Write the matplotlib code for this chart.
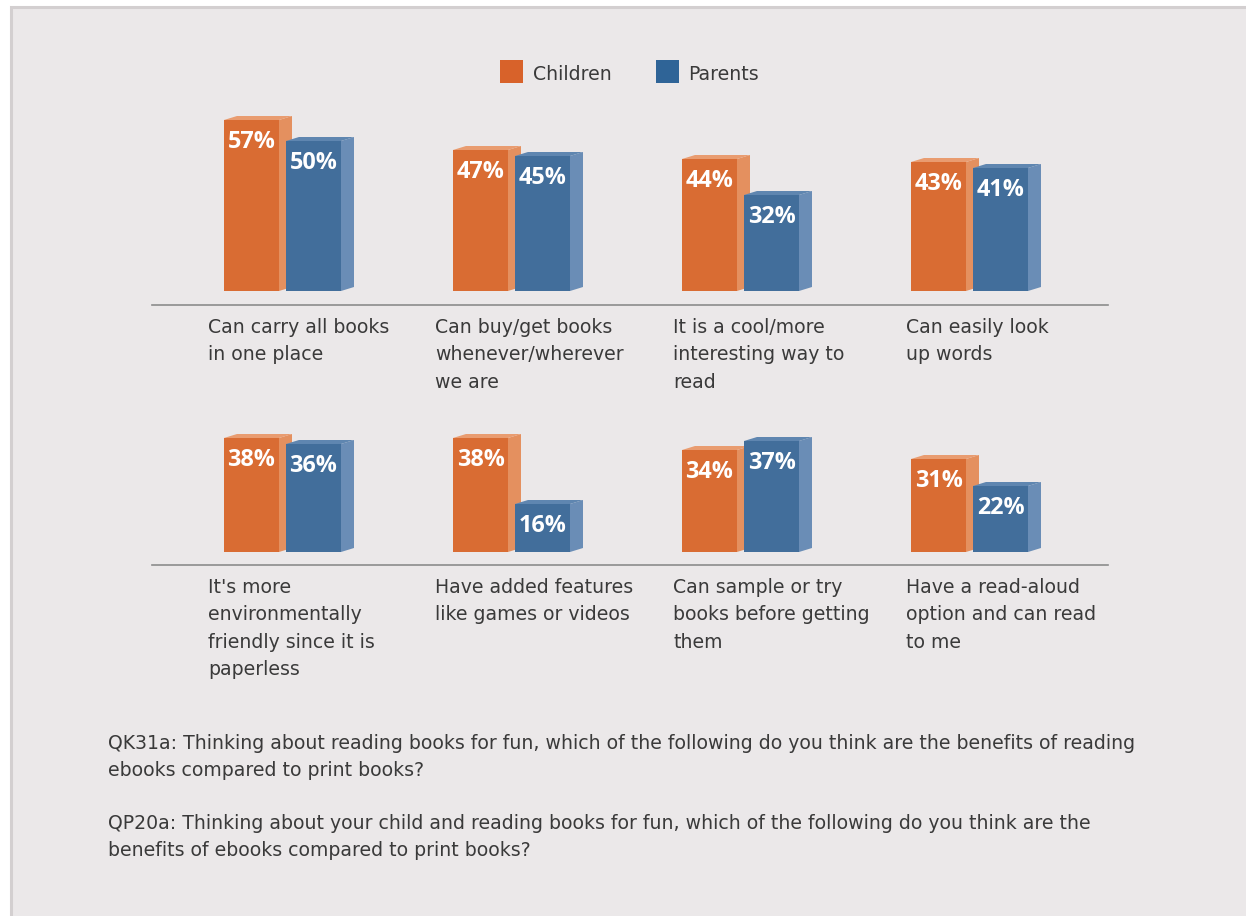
import matplotlib
matplotlib.use("Agg")
import matplotlib.pyplot as plt
from matplotlib.patches import Polygon, Rectangle
from matplotlib.lines import Line2D

# ---------------- data ----------------
categories_top = [
    "Can carry all books\nin one place",
    "Can buy/get books\nwhenever/wherever\nwe are",
    "It is a cool/more\ninteresting way to\nread",
    "Can easily look\nup words",
]
categories_bottom = [
    "It's more\nenvironmentally\nfriendly since it is\npaperless",
    "Have added features\nlike games or videos",
    "Can sample or try\nbooks before getting\nthem",
    "Have a read-aloud\noption and can read\nto me",
]
children_top = [57, 47, 44, 43]
parents_top = [50, 45, 32, 41]
children_bottom = [38, 38, 34, 31]
parents_bottom = [36, 16, 37, 22]
series_names = ["Children", "Parents"]
question_1 = ("QK31a: Thinking about reading books for fun, which of the following do you think are the benefits of reading\n"
              "ebooks compared to print books?")
question_2 = ("QP20a: Thinking about your child and reading books for fun, which of the following do you think are the\n"
              "benefits of ebooks compared to print books?")

# ---------------- style ----------------
W, H = 1246, 916
BG = "#ebe8e9"
BORDER = "#d3cfd0"
TEXT = "#3a3a3a"
CH_FRONT, CH_SIDE, CH_TOP = "#d96c33", "#e4905f", "#e99c70"
PA_FRONT, PA_SIDE, PA_TOP = "#426e9b", "#6a8db6", "#5f86b0"
LEG_CH, LEG_PA = "#d8622a", "#2f6497"
FONT = "DejaVu Sans"
VFONT = "Open Sans"
FS = 13.6
LS = 1.56

fig = plt.figure(figsize=(W / 100, H / 100), dpi=100, facecolor="white")


def fx(px):
    return px / W


def fy(py):
    return 1 - py / H


# background panel with border
fig.patches.append(Rectangle((fx(11), fy(H + 20)), fx(W + 20) - fx(11), fy(7) - fy(H + 20),
                             transform=fig.transFigure, facecolor=BG, edgecolor=BORDER,
                             linewidth=2.2, zorder=-5))

# legend
for sq_x, txt_x, col, name in [(500, 533, LEG_CH, series_names[0]), (656, 688, LEG_PA, series_names[1])]:
    fig.patches.append(Rectangle((fx(sq_x), fy(83)), fx(23), 23 / H, transform=fig.transFigure,
                                 facecolor=col, edgecolor="none", zorder=2))
    fig.text(fx(txt_x), fy(74), name, ha="left", va="center", fontsize=FS, color=TEXT, family=FONT)

PX_PER_UNIT = 229.0
CENTER0 = 289.0
AX_L, AX_R = 152, 1108
PX_PER_PCT = 3.0
FRONT_W = 55 / PX_PER_UNIT
CH_OFF = -65 / PX_PER_UNIT
PA_OFF = -3 / PX_PER_UNIT
DX = 13 / PX_PER_UNIT
DY = 4 / PX_PER_PCT
LABEL_X_PX = [208, 435, 673, 906]


def bar3d(ax, x0, v, front, side, top, z):
    ax.add_patch(Polygon([(x0, 0), (x0 + FRONT_W, 0), (x0 + FRONT_W, v), (x0, v)],
                         closed=True, facecolor=front, edgecolor="none", zorder=z, clip_on=False))
    ax.add_patch(Polygon([(x0 + FRONT_W, 0), (x0 + FRONT_W + DX, DY), (x0 + FRONT_W + DX, v + DY),
                          (x0 + FRONT_W, v)],
                         closed=True, facecolor=side, edgecolor="none", zorder=z, clip_on=False))
    ax.add_patch(Polygon([(x0, v), (x0 + DX, v + DY), (x0 + FRONT_W + DX, v + DY), (x0 + FRONT_W, v)],
                         closed=True, facecolor=top, edgecolor="none", zorder=z, clip_on=False))
    ax.annotate(f"{v}%", (x0 + FRONT_W / 2, v), xytext=(0, -16), textcoords="offset points",
                ha="center", va="center", color="white", fontsize=16.8, fontweight="bold",
                family=VFONT, zorder=z + 0.5)


def panel(base_px, line_px, cats, ch, pa):
    top_px = base_px - 60 * PX_PER_PCT
    ax = fig.add_axes([fx(AX_L), fy(base_px), fx(AX_R) - fx(AX_L), (base_px - top_px) / H])
    ax.set_xlim((AX_L - CENTER0) / PX_PER_UNIT, (AX_R - CENTER0) / PX_PER_UNIT)
    ax.set_ylim(0, 60)
    ax.axis("off")
    for i, (c, p) in enumerate(zip(ch, pa)):
        bar3d(ax, i + CH_OFF, c, CH_FRONT, CH_SIDE, CH_TOP, 3)
        bar3d(ax, i + PA_OFF, p, PA_FRONT, PA_SIDE, PA_TOP, 4)
    fig.add_artist(Line2D([fx(AX_L), fx(AX_R)], [fy(line_px), fy(line_px)], color="#8c8c8c",
                          linewidth=1.2, transform=fig.transFigure))
    for i, lab in enumerate(cats):
        fig.text(fx(LABEL_X_PX[i]), fy(line_px + 13), lab, ha="left", va="top", fontsize=FS,
                 color=TEXT, family=FONT, linespacing=LS)


panel(291, 305, categories_top, children_top, parents_top)
panel(552, 565, categories_bottom, children_bottom, parents_bottom)

fig.text(fx(108), fy(734), question_1, ha="left", va="top", fontsize=FS, color=TEXT,
         family=FONT, linespacing=LS)
fig.text(fx(108), fy(814), question_2, ha="left", va="top", fontsize=FS, color=TEXT,
         family=FONT, linespacing=LS)

fig.savefig("out.png", dpi=100, facecolor="white")
